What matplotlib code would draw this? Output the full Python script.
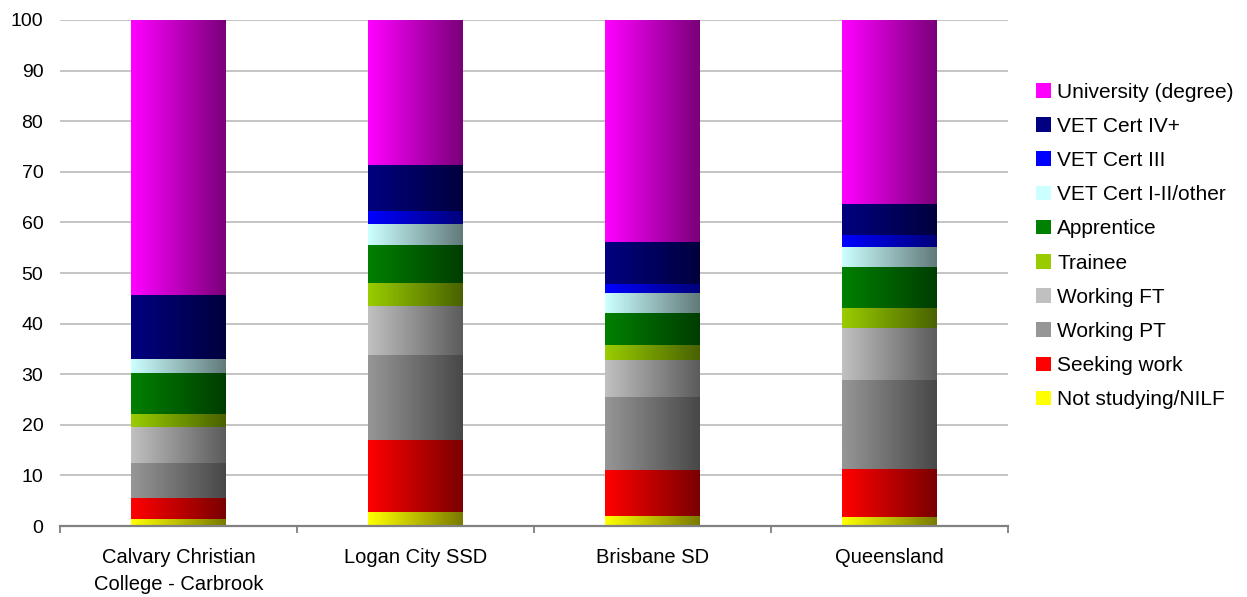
import numpy as np
import matplotlib
matplotlib.use("Agg")
import matplotlib.pyplot as plt
from matplotlib.colors import LinearSegmentedColormap, to_rgb
from matplotlib.patches import Patch

plt.rcParams['font.family'] = ['Liberation Sans', 'DejaVu Sans']

categories = ["Calvary Christian\nCollege - Carbrook", "Logan City SSD", "Brisbane SD", "Queensland"]

# stacked bottom -> top
series = ["Not studying/NILF", "Seeking work", "Working PT", "Working FT", "Trainee",
          "Apprentice", "VET Cert I-II/other", "VET Cert III", "VET Cert IV+", "University (degree)"]
not_studying = [1.3, 2.75, 2.05, 1.8]
seeking_work = [4.3, 14.15, 9.0, 9.45]
working_pt = [6.85, 16.8, 14.45, 17.55]
working_ft = [7.15, 9.85, 7.4, 10.4]
trainee = [2.5, 4.55, 2.9, 3.95]
apprentice = [8.2, 7.4, 6.2, 7.95]
vet_cert_1_2 = [2.8, 4.2, 4.0, 4.05]
vet_cert_3 = [0.0, 2.55, 1.8, 2.35]
vet_cert_4 = [12.55, 9.15, 8.25, 6.1]
university = [54.35, 28.6, 43.95, 36.4]
values = [not_studying, seeking_work, working_pt, working_ft, trainee,
          apprentice, vet_cert_1_2, vet_cert_3, vet_cert_4, university]

colors = ["#FFFF00", "#FF0000", "#969696", "#C0C0C0", "#99CC00",
          "#008000", "#CCFFFF", "#0000FF", "#000080", "#FF00FF"]

fig = plt.figure(figsize=(12.47, 5.97), dpi=100)
ax = fig.add_axes([0.0481, 0.1189, 0.7602, 0.8476])

x = np.arange(len(categories))
bottom = np.zeros(len(categories))
grad = np.linspace(0, 1, 64).reshape(1, -1)
for name, vals, col in zip(series, values, colors):
    bars = ax.bar(x, vals, 0.4, bottom=bottom, color=col, zorder=2)
    c0 = np.array(to_rgb(col))
    cmap = LinearSegmentedColormap.from_list(name, [c0, c0 * 0.48])
    for r in bars:
        if r.get_height() <= 0:
            continue
        x0, y0 = r.get_x(), r.get_y()
        ax.imshow(grad, cmap=cmap, aspect='auto', zorder=3,
                  extent=[x0, x0 + r.get_width(), y0, y0 + r.get_height()])
    bottom += np.array(vals)

ax.set_xlim(-0.5, len(categories) - 0.5)
ax.set_ylim(0, 100)
ax.set_yticks(np.arange(0, 101, 10))
ax.yaxis.grid(True, color="#B4B4B4", lw=1.1, zorder=0)
ax.set_axisbelow(True)
for s in ["left", "right", "top"]:
    ax.spines[s].set_visible(False)
ax.spines["bottom"].set_color("#808080")
ax.spines["bottom"].set_linewidth(1.6)
ax.spines["bottom"].set_zorder(5)
ax.tick_params(axis='y', length=0, pad=12, labelsize=14)
ax.set_xticks(x)
ax.set_xticklabels(categories, fontsize=14.5, linespacing=1.55)
ax.tick_params(axis='x', length=0, pad=16)
ax.set_xticks(np.arange(-0.5, len(categories)), minor=True)
ax.tick_params(axis='x', which='minor', length=5, width=1.3, color="#808080", direction='out')

handles = [Patch(facecolor=c, label=n) for n, c in zip(series, colors)]
fig.legend(handles[::-1], series[::-1], loc='center left', bbox_to_anchor=(0.816, 0.588),
           frameon=False, fontsize=15, handlelength=0.7, handleheight=0.7,
           handletextpad=0.3, labelspacing=0.73)

fig.savefig("out.png", dpi=100)
